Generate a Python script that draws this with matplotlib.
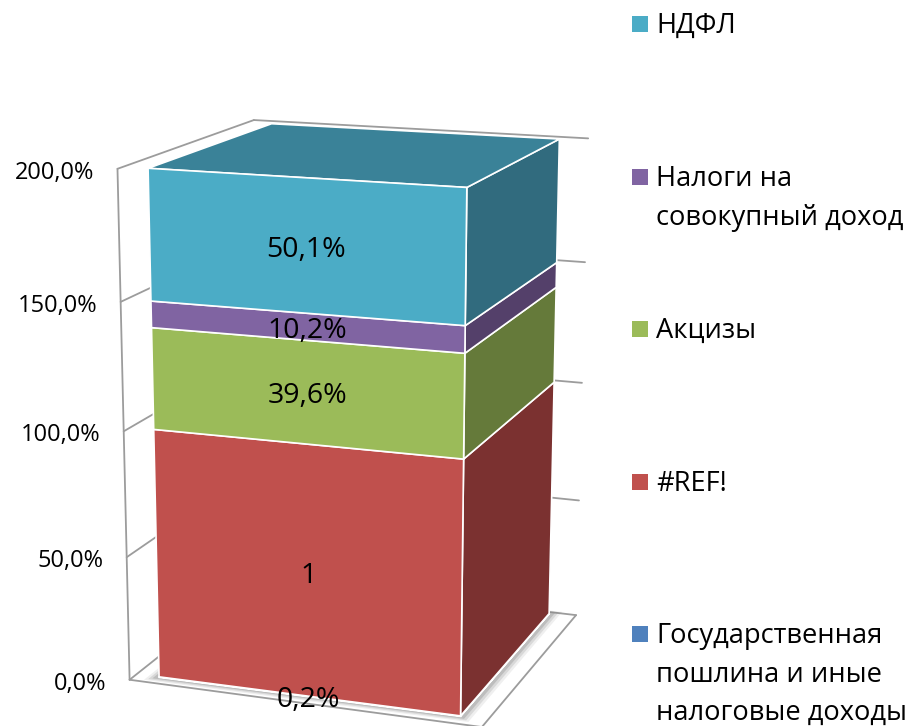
import numpy as np
import matplotlib
matplotlib.use('Agg')
import matplotlib.pyplot as plt

plt.rcParams['font.family'] = ['Open Sans', 'DejaVu Sans']

# dane
series = ['Государственная\nпошлина и иные\nналоговые доходы', '#REF!', 'Акцизы',
          'Налоги на\nсовокупный доход', 'НДФЛ']
values = [0.2, 100.0, 39.6, 10.2, 50.1]
value_labels = ['0,2%', '1', '39,6%', '10,2%', '50,1%']
ticks = [0, 50, 100, 150, 200]
tick_labels = ['0,0%', '50,0%', '100,0%', '150,0%', '200,0%']

front_colors = ['#4F81BD', '#C0504D', '#9BBB59', '#8064A2', '#4BACC6']
side_colors = ['#2F4D71', '#7B3130', '#657A3A', '#54406A', '#316B7E']
top_color = '#3A8298'
wall_color = '#9C9C9C'

legend_y = [634, 482, 329, 177, 24]
line_gap = 38.5

# punkty kalibracji rzutu: (x, y, wartosc) -> piksel
wall_points = [
    (0, 0, 0, 129, 680), (0, 0, 50, 127, 557), (0, 0, 100, 124, 431),
    (0, 0, 150, 121, 302), (0, 0, 200, 117, 169), (0, 1, 200, 254, 120),
    (1, 1, 0, 576, 615), (1, 1, 50, 579, 500), (1, 1, 100, 582, 384),
    (1, 1, 150, 585, 262), (1, 1, 200, 588, 138), (1, 0, 0, 482, 727),
]
bar_points = [
    (0, 0, 0, 159, 677), (1, 0, 0, 460, 717), (1, 1, 0, 550, 613),
    (0, 0, 100.2, 153, 430), (1, 0, 100.2, 463, 459), (1, 1, 100.2, 554, 383),
    (0, 0, 139.8, 152, 328), (1, 0, 139.8, 465, 353), (1, 1, 139.8, 556, 288),
    (0, 0, 150, 151, 301), (1, 0, 150, 466, 325), (1, 1, 150, 557, 263),
    (0, 0, 200.1, 149, 168.5), (1, 0, 200.1, 466.5, 187), (1, 1, 200.1, 559, 139),
    (0, 1, 200.1, 271, 123),
]


def fit_projection(points):
    rows = []
    for x, y, z, u, v in points:
        rows.append([x, y, z, 1, 0, 0, 0, 0, -u * x, -u * y, -u * z, -u])
        rows.append([0, 0, 0, 0, x, y, z, 1, -v * x, -v * y, -v * z, -v])
    _, _, vt = np.linalg.svd(np.array(rows, dtype=float))
    return vt[-1].reshape(3, 4)


def project(P, x, y, z):
    p = P @ np.array([x, y, z, 1.0])
    return p[0] / p[2], p[1] / p[2]


wall = fit_projection(wall_points)
bar = fit_projection(bar_points)

fig = plt.figure(figsize=(9.13, 7.26), dpi=100)
ax = fig.add_axes([0, 0, 1, 1])
ax.set_xlim(0, 913)
ax.set_ylim(726, 0)
ax.axis('off')


def wall_line(a, b):
    pa = project(wall, *a)
    pb = project(wall, *b)
    ax.plot([pa[0], pb[0]], [pa[1], pb[1]], color=wall_color, lw=1.3, zorder=1,
            solid_capstyle='round')


# sciany i podloga
wall_line((0, 0, 0), (0, 0, 200))
wall_line((0, 0, 0), (1, 0, 0))
wall_line((1, 0, 0), (1, 1, 0))
for t in ticks:
    wall_line((0, 0, t), (0, 1, t))
    wall_line((0, 1, t), (1, 1, t))

# cien pod slupkiem
for grow, alpha in [(0.036, 0.12), (0.026, 0.20), (0.016, 0.30)]:
    corners = [(-grow, -grow), (1 + grow, -grow), (1 + grow, 1 + grow), (-grow, 1 + grow)]
    ax.fill(*zip(*[project(bar, cx, cy, 0) for cx, cy in corners]),
            color='#808080', alpha=alpha, lw=0, zorder=2)

# slupek
bottoms = np.concatenate([[0], np.cumsum(values)[:-1]])
for i, val in enumerate(values):
    lo = bottoms[i]
    hi = lo + val
    front = [project(bar, 0, 0, lo), project(bar, 1, 0, lo),
             project(bar, 1, 0, hi), project(bar, 0, 0, hi)]
    side = [project(bar, 1, 0, lo), project(bar, 1, 1, lo),
            project(bar, 1, 1, hi), project(bar, 1, 0, hi)]
    ax.fill(*zip(*side), facecolor=side_colors[i], edgecolor='white', lw=1.2, zorder=3)
    ax.fill(*zip(*front), facecolor=front_colors[i], edgecolor='white', lw=1.2, zorder=4)

total = bottoms[-1] + values[-1]
top = [project(bar, 0, 0, total), project(bar, 1, 0, total),
       project(bar, 1, 1, total), project(bar, 0, 1, total)]
ax.fill(*zip(*top), facecolor=top_color, edgecolor='white', lw=1.2, zorder=3)

# etykiety wartosci
for i, val in enumerate(values):
    px, py = project(bar, 0.5, 0, bottoms[i] + val / 2)
    ax.text(px + 2, py + 4, value_labels[i], fontsize=20.5, ha='center', va='center',
            color='black', zorder=6)

# os y
for t, lab in zip(ticks, tick_labels):
    px, py = project(wall, 0, 0, t)
    ax.text(px - 23, py + 4, lab, fontsize=17, ha='right', va='center', color='black')

# legenda
for i, name in enumerate(series):
    ax.scatter([639.5], [legend_y[i]], marker='s', s=117, color=front_colors[i],
               linewidths=0, zorder=5)
    for j, line in enumerate(name.split('\n')):
        ax.text(656, legend_y[i] + 2 + j * line_gap, line, fontsize=19.6, ha='left',
                va='center', color='black')

fig.savefig('out.png', dpi=100)
